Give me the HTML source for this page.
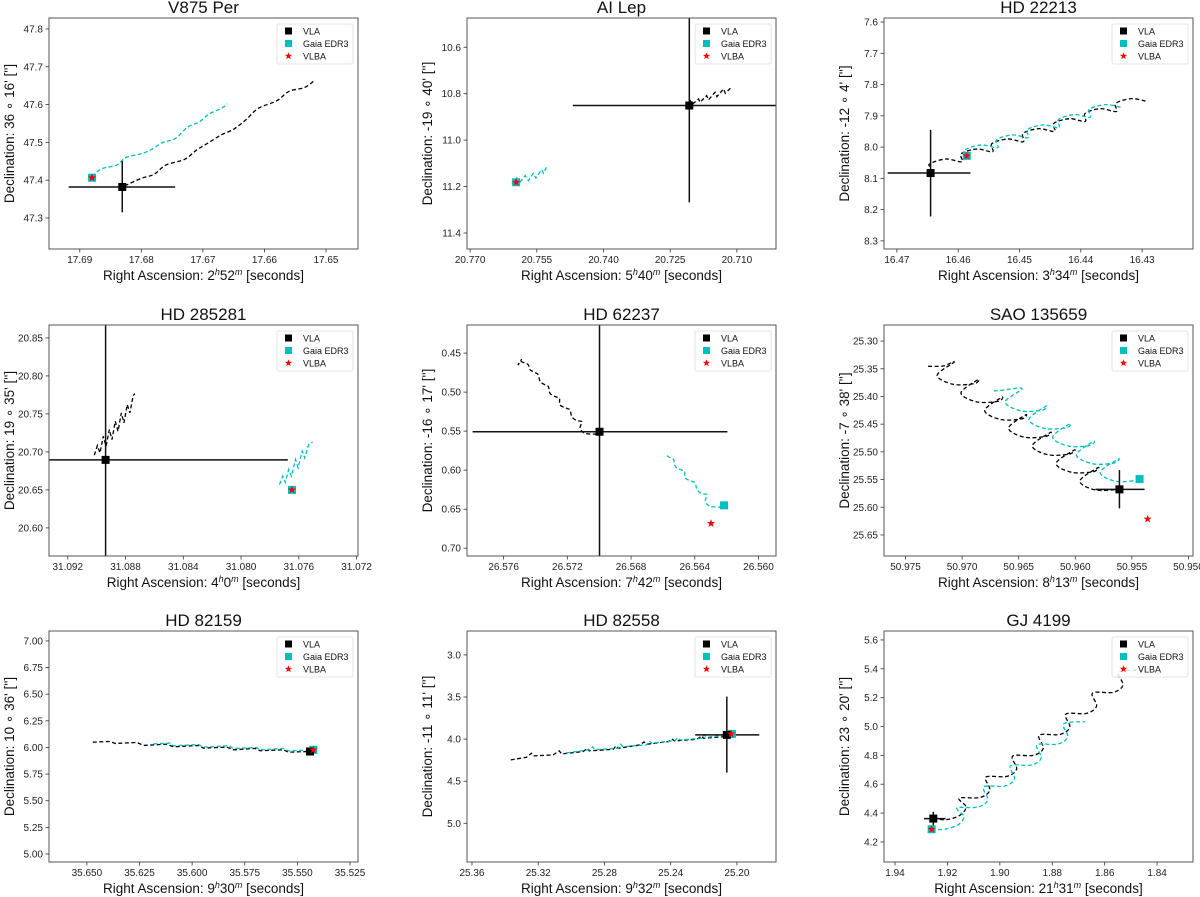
<!DOCTYPE html>
<html><head><meta charset="utf-8"><title>Astrometry panels</title>
<style>
html,body{margin:0;padding:0;background:#fff;}
svg{display:block;font-family:"Liberation Sans","DejaVu Sans",sans-serif;}
</style></head>
<body>
<svg id="fig" width="1200" height="897" viewBox="0 0 1200 897"></svg>
<script>
// ---------- DATA ----------
const titles = ["V875 Per","AI Lep","HD 22213","HD 285281","HD 62237","SAO 135659","HD 82159","HD 82558","GJ 4199"];
const raH = ["2","5","3","4","7","8","9","9","21"];
const raM = ["52","40","34","0","42","13","30","32","31"];
const decLbl = ["36 ∘ 16'","-19 ∘ 40'","-12 ∘ 4'","19 ∘ 35'","-16 ∘ 17'","-7 ∘ 38'","10 ∘ 36'","-11 ∘ 11'","23 ∘ 20'"];
const xDomains = [[17.6950,17.6448],[20.7707,20.7012],[16.4721,16.4217],[31.0933,31.0719],[26.5783,26.5589],[50.9769,50.9496],[35.668,35.5212],[25.363,25.1764],[1.9442,1.8263]];
const yDomains = [[47.829,47.218],[10.474,11.469],[7.587,8.326],[20.867,20.563],[0.414,0.710],[25.271,25.688],[7.093,4.925],[2.716,5.46],[5.662,4.061]];
const xTicks = [[17.69,17.68,17.67,17.66,17.65],[20.770,20.755,20.740,20.725,20.710],[16.47,16.46,16.45,16.44,16.43],[31.092,31.088,31.084,31.080,31.076,31.072],[26.576,26.572,26.568,26.564,26.560],[50.975,50.970,50.965,50.960,50.955,50.950],[35.650,35.625,35.600,35.575,35.550,35.525],[25.36,25.32,25.28,25.24,25.20],[1.94,1.92,1.90,1.88,1.86,1.84]];
const xDec = [2,3,2,3,3,3,3,2,2];
const yTicks = [[47.3,47.4,47.5,47.6,47.7,47.8],[10.6,10.8,11.0,11.2,11.4],[7.6,7.7,7.8,7.9,8.0,8.1,8.2,8.3],[20.60,20.65,20.70,20.75,20.80,20.85],[0.45,0.50,0.55,0.60,0.65,0.70],[25.30,25.35,25.40,25.45,25.50,25.55,25.60,25.65],[5.00,5.25,5.50,5.75,6.00,6.25,6.50,6.75,7.00],[3.0,3.5,4.0,4.5,5.0],[4.2,4.4,4.6,4.8,5.0,5.2,5.4,5.6]];
const yDec = [1,1,1,2,2,2,2,1,1];

const vlaPos = [[17.6831,47.382],[20.7207,10.851],[16.4645,8.083],[31.08938,20.6895],[26.56998,0.5508],[50.9561,25.5677],[35.5440,5.962],[25.2061,3.950],[1.92539,4.362]];
const vlaErrRA = [[17.6918,17.6745],[20.7469,20.69],[16.4715,16.4580],[31.10,31.07676],[26.57795,26.56195],[50.95822,50.95388],[35.5440,35.5440],[25.2252,25.1865],[1.92895,1.92069]];
const vlaErrDec = [[47.315,47.4505],[10.4,11.268],[7.945,8.222],[20.5,20.9],[0.40,0.72],[25.5329,25.6020],[5.962,5.962],[3.495,4.398],[4.309,4.408]];
const gaiaPos = [[17.6880,47.4065],[20.75965,11.1817],[16.4586,8.028],[31.07647,20.650],[26.56216,0.6451],[50.95432,25.5491],[35.5424,5.978],[25.2030,3.9385],[1.92602,4.288]];
const vlbaPos = [[17.6880,47.4065],[20.75965,11.1817],[16.4586,8.028],[31.07647,20.650],[26.56298,0.6683],[50.95361,25.6212],[35.5424,5.978],[25.2035,3.939],[1.92602,4.288]];

const p1Black = [[17.6827,47.385],[17.6800,47.405],[17.6780,47.415],[17.6760,47.44],[17.6730,47.455],[17.6710,47.48],[17.6690,47.50],[17.6670,47.52],[17.6650,47.535],[17.6630,47.56],[17.6610,47.59],[17.6580,47.61],[17.6560,47.635],[17.6535,47.645],[17.6520,47.662]];
const p1Cyan = [[17.6880,47.41],[17.6865,47.43],[17.6840,47.44],[17.6825,47.46],[17.6800,47.47],[17.6785,47.48],[17.6765,47.50],[17.6745,47.51],[17.6725,47.54],[17.6705,47.555],[17.6690,47.575],[17.6670,47.59],[17.6660,47.602]];
const p2Black = [[20.7216,10.8557],[20.7205,10.8298],[20.7201,10.8470],[20.7186,10.8226],[20.7183,10.8370],[20.7168,10.8083],[20.7164,10.8269],[20.7149,10.7939],[20.7145,10.8126],[20.7130,10.7795],[20.7126,10.7982],[20.7111,10.7695]];
const p2Cyan = [[20.76063,11.186],[20.7595,11.163],[20.7588,11.182],[20.7576,11.153],[20.7569,11.175],[20.7558,11.143],[20.7552,11.163],[20.7539,11.127],[20.7535,11.143],[20.7528,11.117]];
const p3Black = [[16.4645,8.083],[16.4646,8.065],[16.4646,8.053],[16.4620,8.038],[16.4594,8.047],[16.4595,8.021],[16.4569,8.006],[16.4544,8.015],[16.4545,7.989],[16.4519,7.974],[16.4494,7.983],[16.4494,7.956],[16.4468,7.941],[16.4443,7.950],[16.4444,7.924],[16.4418,7.909],[16.4393,7.918],[16.4393,7.892],[16.4368,7.877],[16.4342,7.886],[16.4343,7.860],[16.4317,7.845],[16.4292,7.854]];
const p3Cyan = [[16.4586,8.028],[16.4588,8.008],[16.4562,7.993],[16.4536,8.002],[16.4537,7.976],[16.4511,7.961],[16.4486,7.970],[16.4487,7.944],[16.4461,7.929],[16.4436,7.938],[16.4436,7.911],[16.4410,7.896],[16.4385,7.905],[16.4386,7.879],[16.4360,7.864],[16.4334,7.873]];
const p4Black = [[31.09016,20.6956],[31.08995,20.7083],[31.08977,20.6987],[31.08954,20.7206],[31.08935,20.7075],[31.08912,20.7294],[31.08894,20.7162],[31.08871,20.7404],[31.08852,20.7272],[31.08829,20.7513],[31.08811,20.7382],[31.08788,20.7623],[31.08770,20.7513],[31.08747,20.7741],[31.08735,20.7768]];
const p4Cyan = [[31.07734,20.657],[31.07711,20.668],[31.07693,20.660],[31.07670,20.677],[31.07651,20.668],[31.07623,20.690],[31.07605,20.679],[31.07577,20.701],[31.07559,20.692],[31.07531,20.710],[31.07504,20.713]];
const p5Black = [[26.57015,0.5538],[26.57088,0.5529],[26.5712,0.5465],[26.57109,0.5379],[26.57141,0.5366],[26.57172,0.5315],[26.57183,0.5229],[26.57204,0.5208],[26.57246,0.5165],[26.5725,0.5079],[26.57277,0.5057],[26.57309,0.5015],[26.57319,0.4929],[26.5734,0.4907],[26.57371,0.4864],[26.57382,0.4779],[26.57403,0.4749],[26.57434,0.4714],[26.57445,0.4650],[26.57466,0.4629],[26.57497,0.4607],[26.57508,0.4650],[26.57487,0.4577]];
const p5Cyan = [[26.56229,0.6473],[26.56302,0.6464],[26.56334,0.6400],[26.56323,0.6314],[26.56355,0.6301],[26.56386,0.6250],[26.56397,0.6164],[26.56418,0.6143],[26.56460,0.6100],[26.56464,0.6014],[26.56491,0.5992],[26.56523,0.5950],[26.56533,0.5864],[26.56554,0.5842],[26.56585,0.5799]];
const p6Black = [[50.9730,25.3456],[50.9717,25.3450],[50.9707,25.3378],[50.9722,25.3618],[50.9708,25.3780],[50.9689,25.3768],[50.9686,25.3696],[50.9701,25.3936],[50.9687,25.4098],[50.9668,25.4086],[50.9665,25.4014],[50.9680,25.4254],[50.9666,25.4416],[50.9647,25.4404],[50.9644,25.4332],[50.9659,25.4572],[50.9645,25.4734],[50.9626,25.4722],[50.9622,25.4650],[50.9638,25.4890],[50.9624,25.5052],[50.9605,25.5040],[50.9601,25.4968],[50.9617,25.5208],[50.9603,25.5370],[50.9584,25.5358],[50.9580,25.5286],[50.9596,25.5526],[50.9582,25.5688],[50.9561,25.5677]];
const p6Cyan = [[50.9672,25.3900],[50.9665,25.3888],[50.9647,25.3858],[50.9662,25.4098],[50.9648,25.4260],[50.9629,25.4248],[50.9626,25.4176],[50.9641,25.4416],[50.9627,25.4578],[50.9608,25.4566],[50.9605,25.4494],[50.9620,25.4734],[50.9606,25.4896],[50.9587,25.4884],[50.9584,25.4812],[50.9599,25.5052],[50.9585,25.5214],[50.9566,25.5202],[50.9562,25.5130],[50.9578,25.5370],[50.9564,25.5532],[50.9543,25.5510]];
const p7Black = [[35.6472,6.050],[35.6389,6.056],[35.6366,6.0375],[35.6263,6.047],[35.6231,6.019],[35.6120,6.031],[35.6089,6.006],[35.5970,6.019],[35.5946,5.994],[35.5835,6.003],[35.5804,5.978],[35.5701,5.991],[35.5677,5.969],[35.5566,5.978],[35.5543,5.956],[35.5440,5.962]];
const p7Cyan = [[35.6184,6.034],[35.6104,6.041],[35.6089,6.016],[35.5970,6.028],[35.5946,6.003],[35.5828,6.016],[35.5804,5.991],[35.5693,6.000],[35.5677,5.978],[35.5566,5.991],[35.5543,5.969],[35.5424,5.978]];
const p8Black = [[25.3366,4.247],[25.3271,4.216],[25.3241,4.168],[25.3231,4.200],[25.3110,4.188],[25.3073,4.140],[25.3059,4.176],[25.2928,4.148],[25.2904,4.109],[25.2892,4.140],[25.2747,4.121],[25.2730,4.081],[25.2716,4.109],[25.2585,4.069],[25.2561,4.034],[25.2545,4.061],[25.2414,4.030],[25.2393,3.998],[25.2377,4.022],[25.2242,4.002],[25.2212,3.962],[25.2202,3.990],[25.2071,3.970]];
const p8Cyan = [[25.3029,4.164],[25.2888,4.125],[25.2872,4.093],[25.2857,4.125],[25.2716,4.109],[25.2702,4.061],[25.2690,4.089],[25.2545,4.069],[25.2529,4.022],[25.2514,4.049],[25.2373,4.018],[25.2359,3.982],[25.2343,4.010],[25.2212,3.990],[25.2198,3.950],[25.2182,3.978],[25.2040,3.950]];
const p9Black = [[1.92539,4.362],[1.9203,4.355],[1.9152,4.385],[1.9129,4.443],[1.9155,4.503],[1.9076,4.508],[1.9038,4.559],[1.9053,4.649],[1.8974,4.654],[1.8936,4.705],[1.8951,4.795],[1.8872,4.800],[1.8834,4.850],[1.8850,4.940],[1.8771,4.945],[1.8733,4.996],[1.8748,5.086],[1.8669,5.091],[1.8631,5.142],[1.8646,5.232],[1.8567,5.237],[1.8530,5.288],[1.8545,5.378],[1.8441,5.390]];
const p9Cyan = [[1.92602,4.288],[1.9211,4.288],[1.9160,4.318],[1.9137,4.376],[1.9163,4.436],[1.9084,4.441],[1.9046,4.492],[1.9061,4.582],[1.8982,4.587],[1.8944,4.638],[1.8959,4.728],[1.8880,4.733],[1.8842,4.783],[1.8858,4.873],[1.8779,4.878],[1.8741,4.929],[1.8756,5.019],[1.8676,5.033]];

const blackTrails = [p1Black,p2Black,p3Black,p4Black,p5Black,p6Black,p7Black,p8Black,p9Black];
const cyanTrails = [p1Cyan,p2Cyan,p3Cyan,p4Cyan,p5Cyan,p6Cyan,p7Cyan,p8Cyan,p9Cyan];
const smoothTrail = [true,false,true,false,true,true,false,false,true];

// ---------- LAYOUT ----------
const colX = [49,467,884];
const rowY = [18,325,631];
const BW = 309, BH = 231;
const CYAN = "#00bfbf";
const NS = "http://www.w3.org/2000/svg";
const svg = document.getElementById("fig");

function mk(tag, attrs, parent){
  const e = document.createElementNS(NS, tag);
  for (const k in attrs) e.setAttribute(k, attrs[k]);
  parent.appendChild(e);
  return e;
}
function pathFrom(pts, smooth){
  if (!smooth) return "M" + pts.map(p => p[0].toFixed(2)+","+p[1].toFixed(2)).join("L");
  let d = "M"+pts[0][0].toFixed(2)+","+pts[0][1].toFixed(2);
  for (let i=0;i<pts.length-1;i++){
    const p0 = pts[Math.max(0,i-1)], p1 = pts[i], p2 = pts[i+1], p3 = pts[Math.min(pts.length-1,i+2)];
    const c1x = p1[0]+(p2[0]-p0[0])/6, c1y = p1[1]+(p2[1]-p0[1])/6;
    const c2x = p2[0]-(p3[0]-p1[0])/6, c2y = p2[1]-(p3[1]-p1[1])/6;
    d += "C"+c1x.toFixed(2)+","+c1y.toFixed(2)+" "+c2x.toFixed(2)+","+c2y.toFixed(2)+" "+p2[0].toFixed(2)+","+p2[1].toFixed(2);
  }
  return d;
}
function starPts(cx, cy, r){
  const a = [];
  for (let i=0;i<10;i++){
    const rr = i%2===0 ? r : r*0.42;
    const ang = -Math.PI/2 + i*Math.PI/5;
    a.push((cx+rr*Math.cos(ang)).toFixed(2)+","+(cy+rr*Math.sin(ang)).toFixed(2));
  }
  return a.join(" ");
}

const defs = mk("defs", {}, svg);

for (let i=0;i<9;i++){
  const bx = colX[i%3], by = rowY[Math.floor(i/3)];
  const xd = xDomains[i], yd = yDomains[i];
  const sx = v => bx + (v - xd[0]) / (xd[1] - xd[0]) * BW;
  const sy = v => by + (v - yd[0]) / (yd[1] - yd[0]) * BH;

  const g = mk("g", {}, svg);
  
  

  const cp = mk("clipPath", {id:"clip"+i}, defs);
  mk("rect", {x:bx, y:by, width:BW, height:BH}, cp);

  // title
  const t = mk("text", {x:bx+BW/2, y:by-5, "text-anchor":"middle", "font-size":"17", fill:"#111"}, g);
  t.textContent = titles[i];
  
  

  // data layer
  const dl = mk("g", {"clip-path":"url(#clip"+i+")"}, g);
  
  

  const bp = blackTrails[i].map(p => [sx(p[0]), sy(p[1])]);
  const bt = mk("path", {d:pathFrom(bp, smoothTrail[i]), fill:"none", stroke:"#000", "stroke-width":"1.3", "stroke-dasharray":"4,2.5"}, dl);
  
  

  const cpnts = cyanTrails[i].map(p => [sx(p[0]), sy(p[1])]);
  const ct = mk("path", {d:pathFrom(cpnts, smoothTrail[i]), fill:"none", stroke:CYAN, "stroke-width":"1.3", "stroke-dasharray":"4,2.5"}, dl);
  
  

  // VLA error bars
  const eh = mk("line", {x1:sx(vlaErrRA[i][0]), x2:sx(vlaErrRA[i][1]), y1:sy(vlaPos[i][1]), y2:sy(vlaPos[i][1]), stroke:"#111", "stroke-width":"1.5"}, dl);
  
  
  const ev = mk("line", {x1:sx(vlaPos[i][0]), x2:sx(vlaPos[i][0]), y1:sy(vlaErrDec[i][0]), y2:sy(vlaErrDec[i][1]), stroke:"#111", "stroke-width":"1.5"}, dl);
  
  

  const gx = sx(gaiaPos[i][0]), gy = sy(gaiaPos[i][1]);
  const gm = mk("rect", {x:gx-4, y:gy-4, width:8, height:8, fill:CYAN}, dl);
  
  

  const vx = sx(vlaPos[i][0]), vy = sy(vlaPos[i][1]);
  const vm = mk("rect", {x:vx-4, y:vy-4, width:8, height:8, fill:"#000"}, dl);
  
  

  const lx = sx(vlbaPos[i][0]), ly = sy(vlbaPos[i][1]);
  const lm = mk("polygon", {points:starPts(lx, ly, 4.2), fill:"#ff0000"}, dl);
  
  

  // frame
  const fr = mk("rect", {x:bx, y:by, width:BW, height:BH, fill:"none", stroke:"#555", "stroke-width":"1"}, g);
  
  

  // x ticks
  xTicks[i].forEach(v => {
    const x = sx(v);
    const tk = mk("line", {x1:x, x2:x, y1:by+BH, y2:by+BH+3.5, stroke:"#333", "stroke-width":"0.8"}, g);
    
    
    const tl = mk("text", {x:x, y:by+BH+14, "text-anchor":"middle", "font-size":"10", fill:"#222"}, g);
    tl.textContent = v.toFixed(xDec[i]);
    
    
  });
  // y ticks
  yTicks[i].forEach(v => {
    const y = sy(v);
    const tk = mk("line", {x1:bx-3.5, x2:bx, y1:y, y2:y, stroke:"#333", "stroke-width":"0.8"}, g);
    
    
    const tl = mk("text", {x:bx-6, y:y+3.5, "text-anchor":"end", "font-size":"10", fill:"#222"}, g);
    tl.textContent = v.toFixed(yDec[i]);
    
    
  });

  // x axis title
  const xt = mk("text", {x:bx+BW/2, y:by+BH+31, "text-anchor":"middle", "font-size":"13.5", fill:"#111"}, g);
  
  
  const s1 = mk("tspan", {}, xt); s1.textContent = "Right Ascension: " + raH[i];
  const s2 = mk("tspan", {"font-size":"9", "font-style":"italic", dy:"-5"}, xt); s2.textContent = "h";
  const s3 = mk("tspan", {dy:"5"}, xt); s3.textContent = raM[i];
  const s4 = mk("tspan", {"font-size":"9", "font-style":"italic", dy:"-5"}, xt); s4.textContent = "m";
  const s5 = mk("tspan", {dy:"5"}, xt); s5.textContent = " [seconds]";

  // y axis title
  const ycx = bx - 35, ycy = by + BH/2;
  const yt = mk("text", {x:ycx, y:ycy, "text-anchor":"middle", "font-size":"13.5", fill:"#111", transform:"rotate(-90 "+ycx+" "+ycy+")"}, g);
  yt.textContent = "Declination: " + decLbl[i] + " ['']";
  
  

  // legend
  const lgx = bx + BW - 81, lgy = by + 6;
  const lg = mk("g", {}, g);
  
  
  mk("rect", {x:lgx, y:lgy, width:76, height:40, rx:2, fill:"#fff", "fill-opacity":"0.85", stroke:"#ddd", "stroke-width":"0.8"}, lg);
  const names = ["VLA","Gaia EDR3","VLBA"];
  const keys = ["legend-entry-vla","legend-entry-gaia","legend-entry-vlba"];
  for (let k=0;k<3;k++){
    const ey = lgy + 7 + k*12.5;
    const en = mk("g", {}, lg);
    
    
    if (k===0) mk("rect", {x:lgx+8, y:ey-3.5, width:7, height:7, fill:"#000"}, en);
    if (k===1) mk("rect", {x:lgx+8, y:ey-3.5, width:7, height:7, fill:CYAN}, en);
    if (k===2) mk("polygon", {points:starPts(lgx+11.5, ey, 3.8), fill:"#ff0000"}, en);
    const et = mk("text", {x:lgx+26, y:ey+3.3, "font-size":"9", fill:"#111"}, en);
    et.textContent = names[k];
  }
}
</script>
</body></html>
